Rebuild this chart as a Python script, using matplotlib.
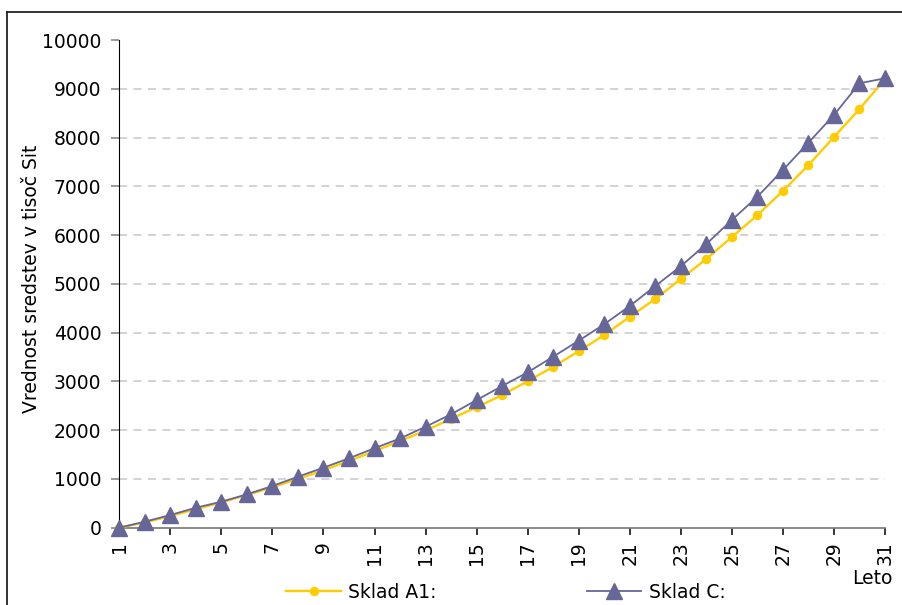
import matplotlib
matplotlib.use("Agg")
from matplotlib import pyplot as plt
from matplotlib.lines import Line2D

years = list(range(1, 32))
sklad_a1 = [0, 110, 240, 380, 520, 670, 830, 1000, 1180, 1370, 1570, 1780,
            1990, 2235, 2470, 2720, 3005, 3300, 3620, 3950, 4325, 4690, 5100,
            5510, 5960, 6410, 6905, 7435, 8010, 8585, 9200]
sklad_c = [0, 123, 260, 410, 533, 685, 855, 1046, 1231, 1423, 1630, 1830,
           2071, 2325, 2618, 2905, 3186, 3507, 3834, 4172, 4546, 4956, 5362,
           5817, 6309, 6787, 7334, 7894, 8462, 9112, 9215]
xticks = list(range(1, 32, 2))
yticks = list(range(0, 10001, 1000))

yellow = "#FFCC00"
purple = "#666699"

plt.rcParams["font.family"] = "DejaVu Sans"
plt.rcParams["font.size"] = 13.5

fig = plt.figure(figsize=(9.03, 6.05), dpi=100)
ax = fig.add_axes([119.3 / 903, 1 - 527.7 / 605, (885 - 119.3) / 903, (527.7 - 40) / 605])

ax.plot(years, sklad_a1, color=yellow, lw=1.7, marker="o", ms=5.8,
        label="Sklad A1:", zorder=3, clip_on=False)
ax.plot(years, sklad_c, color=purple, lw=1.3, marker="^", ms=11,
        label="Sklad C:", zorder=4, clip_on=False)

ax.set_xlim(1, 31)
ax.set_ylim(0, 10000)
ax.set_xticks(xticks)
ax.set_xticklabels([str(v) for v in xticks], rotation=90)
ax.set_yticks(yticks)

for y in yticks[1:-1]:
    ax.axhline(y, color="#D0D0D0", lw=1.3, ls=(0, (4.5, 3.5)), zorder=1)

for s in ["top", "right"]:
    ax.spines[s].set_visible(False)
ax.spines["left"].set_color("black")
ax.spines["bottom"].set_color("#808080")
ax.spines["bottom"].set_linewidth(1.3)
ax.tick_params(axis="y", length=6, pad=7, color="#808080", width=1.1)
ax.tick_params(axis="x", length=5, pad=5, color="black", width=1.1)

fig.text(32 / 903, 1 - 279 / 605, "Vrednost sredstev v tisoč Sit",
         rotation=90, ha="center", va="center")
fig.text(872 / 903, 1 - 578 / 605, "Leto", ha="center", va="center")

fig.legend(loc="center left", bbox_to_anchor=(277 / 903, 1 - 592 / 605),
           ncol=2, frameon=False, borderpad=0, handlelength=2.9,
           handletextpad=0.4, columnspacing=8.0)

# outer frame (cut off at right and bottom)
fx = 7.3 / 903
fy = 1 - 12 / 605
fig.add_artist(Line2D([fx, fx], [0, fy], color="#222222", lw=1.3,
                      transform=fig.transFigure))
fig.add_artist(Line2D([fx, 1], [fy, fy], color="#222222", lw=1.3,
                      transform=fig.transFigure))

fig.savefig("out.png", dpi=100)
